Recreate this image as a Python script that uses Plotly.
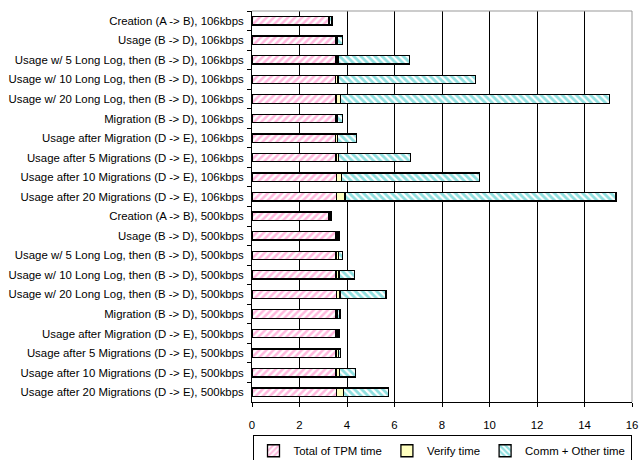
import plotly.graph_objects as go

categories = [
    "Creation (A -> B), 106kbps",
    "Usage (B -> D), 106kbps",
    "Usage w/ 5 Long Log, then (B -> D), 106kbps",
    "Usage w/ 10 Long Log, then (B -> D), 106kbps",
    "Usage w/ 20 Long Log, then (B -> D), 106kbps",
    "Migration (B -> D), 106kbps",
    "Usage after Migration (D -> E), 106kbps",
    "Usage after 5 Migrations (D -> E), 106kbps",
    "Usage after 10 Migrations (D -> E), 106kbps",
    "Usage after 20 Migrations (D -> E), 106kbps",
    "Creation (A -> B), 500kbps",
    "Usage (B -> D), 500kbps",
    "Usage w/ 5 Long Log, then (B -> D), 500kbps",
    "Usage w/ 10 Long Log, then (B -> D), 500kbps",
    "Usage w/ 20 Long Log, then (B -> D), 500kbps",
    "Migration (B -> D), 500kbps",
    "Usage after Migration (D -> E), 500kbps",
    "Usage after 5 Migrations (D -> E), 500kbps",
    "Usage after 10 Migrations (D -> E), 500kbps",
    "Usage after 20 Migrations (D -> E), 500kbps",
]

tpm_time = [3.22, 3.54, 3.54, 3.52, 3.54, 3.54, 3.52, 3.54, 3.56, 3.56,
            3.21, 3.54, 3.54, 3.54, 3.55, 3.54, 3.54, 3.54, 3.54, 3.55]
verify_time = [0.04, 0.05, 0.08, 0.10, 0.18, 0.05, 0.07, 0.09, 0.20, 0.35,
               0.06, 0.08, 0.09, 0.12, 0.16, 0.06, 0.07, 0.09, 0.15, 0.30]
comm_time = [0.11, 0.22, 3.00, 5.78, 11.33, 0.22, 0.80, 3.04, 5.81, 11.42,
             0.06, 0.04, 0.18, 0.67, 1.93, 0.10, 0.05, 0.11, 0.67, 1.89]

x_ticks = [0, 2, 4, 6, 8, 10, 12, 14, 16]

FAMILY = "Liberation Sans, Arial, sans-serif"
font = dict(family=FAMILY, size=11.4, color="black")
outline = dict(color="black", width=1.3)

fig = go.Figure()
fig.add_trace(go.Bar(
    y=categories, x=tpm_time, orientation="h", name="Total of TPM time",
    marker=dict(color="white", line=outline,
                pattern=dict(shape="/", fgcolor="#FF70BC", bgcolor="white",
                             size=5, solidity=0.5)),
))
fig.add_trace(go.Bar(
    y=categories, x=verify_time, orientation="h", name="Verify time",
    marker=dict(color="#FFFFC0", line=outline),
))
fig.add_trace(go.Bar(
    y=categories, x=comm_time, orientation="h", name="Comm + Other time",
    marker=dict(color="white", line=outline,
                pattern=dict(shape="\\", fgcolor="#1EC0C0", bgcolor="white",
                             size=5, solidity=0.55)),
))

fig.update_layout(
    barmode="stack",
    bargap=0.57,
    width=639, height=460,
    margin=dict(l=252, r=7, t=11, b=58, autoexpand=False),
    plot_bgcolor="white", paper_bgcolor="white",
    font=font,
    showlegend=True,
    legend=dict(orientation="h", x=0.5, xanchor="center", y=-0.085, yanchor="top",
                bordercolor="black", borderwidth=1, bgcolor="white",
                font=dict(family=FAMILY, size=11.4),
                itemwidth=30, traceorder="normal",
                entrywidthmode="pixels", entrywidth=0),
    xaxis=dict(range=[0, 16], tickvals=x_ticks, showgrid=True, gridcolor="black",
               gridwidth=1, showline=True, linecolor="black", linewidth=1,
               ticks="outside", ticklen=4, tickcolor="black", zeroline=False,
               automargin=False, ticklabelstandoff=8),
    yaxis=dict(autorange="reversed", showline=True, linecolor="black", linewidth=1,
               ticks="outside", ticklen=4, tickcolor="black", tickson="boundaries",
               showgrid=False, automargin=False, ticklabelstandoff=5),
    shapes=[
        dict(type="line", xref="paper", yref="paper", x0=0, x1=1, y0=1, y1=1,
             line=dict(color="#999999", width=1)),
        dict(type="line", xref="paper", yref="paper", x0=1, x1=1, y0=0, y1=1,
             line=dict(color="#999999", width=1)),
    ],
)

fig.write_html("out.html", config={"displayModeBar": False},
               post_script="document.body.style.margin='0';document.body.style.padding='0';")
